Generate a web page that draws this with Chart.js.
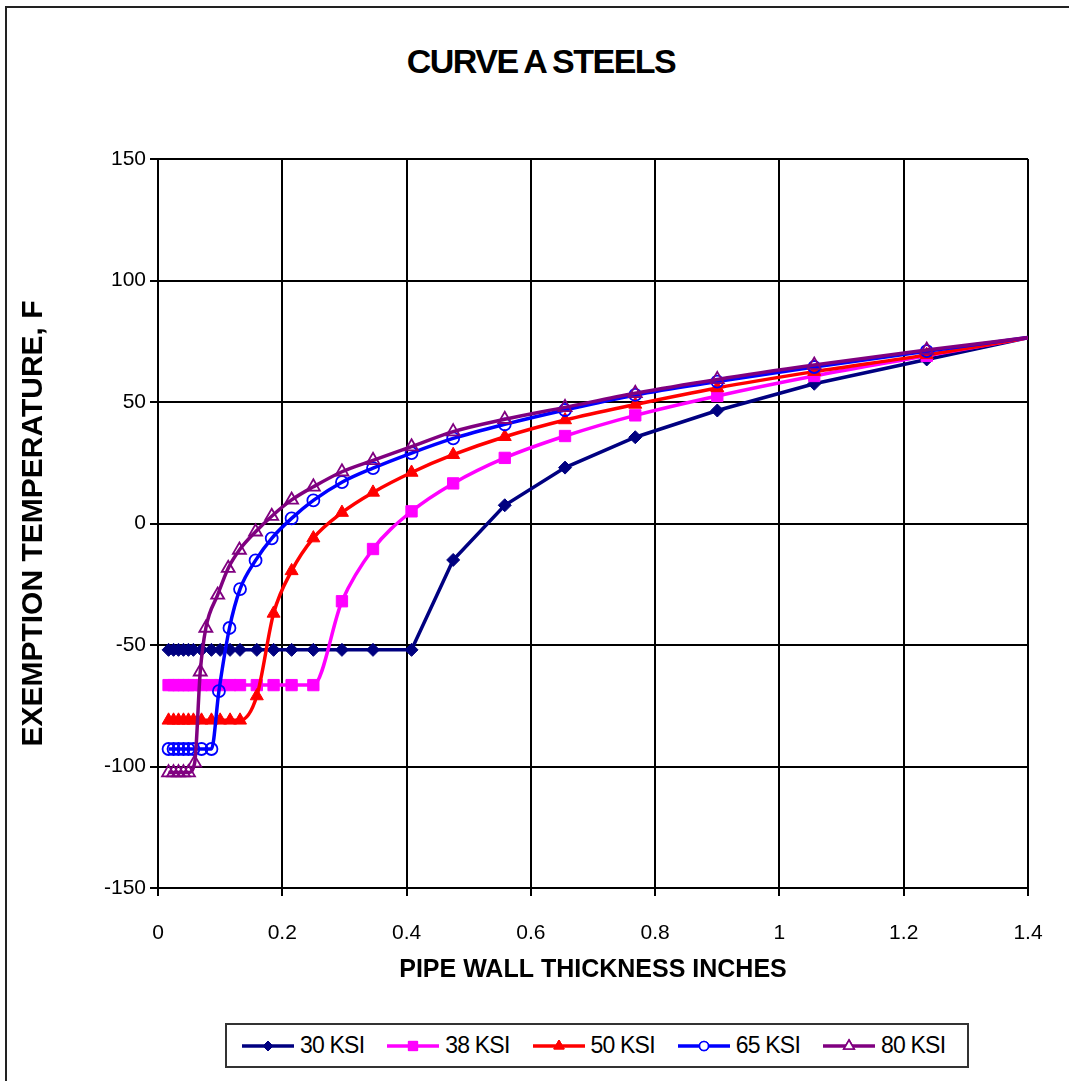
<!DOCTYPE html>
<html>
<head>
<meta charset="utf-8">
<script src="https://cdn.jsdelivr.net/npm/chart.js@4.4.0/dist/chart.umd.min.js"></script>
<style>
  html, body { margin: 0; padding: 0; background: #fff; overflow: hidden; }
  body { width: 1069px; height: 1081px; position: relative; font-family: "Liberation Sans", Arial, sans-serif; }
  #frame { position: absolute; left: 5px; top: 6px; width: 1100px; height: 1100px; border: 2px solid #222; box-sizing: border-box; }
  #title { position: absolute; left: 0; width: 1082px; top: 42px; text-align: center; font-weight: bold; font-size: 34px; letter-spacing: -1.5px; word-spacing: -1px; color: #000; }
  #wrap { position: absolute; left: 0; top: 0; width: 1069px; height: 1000px; }
  #legend { position: absolute; left: 225px; top: 1023px; width: 744px; height: 45px; border: 2px solid #333; box-sizing: border-box; display: flex; align-items: center; padding-left: 15px; white-space: nowrap; }
  .item { display: flex; align-items: center; margin-right: 23px; flex-shrink: 0; }
  .item:last-child { margin-right: 0; }
  .item canvas { width: 52px; height: 20px; }
  .item span { font-size: 23px; margin-left: 6px; letter-spacing: -0.8px; color: #000; white-space: nowrap; }
</style>
</head>
<body>
<div id="frame"></div>
<div id="title">CURVE A STEELS</div>
<div id="wrap"><canvas id="chart"></canvas></div>
<div id="legend"></div>
<script>
// pipe wall thickness (in) and exemption temperature (F) per curve
var seriesNames = ["30 KSI", "38 KSI", "50 KSI", "65 KSI", "80 KSI"];

var xs30 = [0.017,0.025,0.033,0.041,0.049,0.057,0.070,0.086,0.100,0.116,0.132,0.159,0.186,0.215,0.250,0.296,0.346,0.408,0.475,0.558,0.655,0.768,0.900,1.056,1.237,1.4];
var t30  = [-52,-52,-52,-52,-52,-52,-52,-52,-52,-52,-52,-52,-52,-52,-52,-52,-52,-52,-15,7.5,23,35.5,46.5,57.5,67.5,76.5];

var xs38 = [0.017,0.025,0.033,0.041,0.049,0.057,0.070,0.086,0.100,0.116,0.132,0.159,0.186,0.215,0.250,0.296,0.346,0.408,0.475,0.558,0.655,0.768,0.900,1.056,1.237,1.4];
var t38  = [-66.5,-66.5,-66.5,-66.5,-66.5,-66.5,-66.5,-66.5,-66.5,-66.5,-66.5,-66.5,-66.5,-66.5,-66.5,-32,-10.5,5,16.5,27,36,44.5,52.5,60.7,69,76.5];

var xs50 = [0.017,0.025,0.033,0.041,0.049,0.057,0.070,0.086,0.100,0.116,0.132,0.159,0.186,0.215,0.250,0.296,0.346,0.408,0.475,0.558,0.655,0.768,0.900,1.056,1.237,1.4];
var t50  = [-81,-81,-81,-81,-81,-81,-81,-81,-81,-81,-81,-71,-37,-19.5,-6,4.5,12.8,21,28.3,35.7,42.6,49,55.8,62.5,69.4,76.5];

var xs65 = [0.017,0.025,0.033,0.041,0.049,0.057,0.070,0.086,0.098,0.115,0.132,0.157,0.183,0.215,0.250,0.296,0.346,0.408,0.475,0.558,0.655,0.768,0.900,1.056,1.237,1.4];
var t65  = [-92.8,-92.8,-92.8,-92.8,-92.8,-92.8,-92.8,-92.8,-69,-43,-27,-15.2,-6.1,2.1,9.5,17,22.8,29,35,40.8,46.7,52.9,58.4,64.4,70.9,76.5];

var xs80 = [0.017,0.025,0.033,0.041,0.049,0.059,0.068,0.077,0.096,0.113,0.131,0.157,0.183,0.215,0.250,0.296,0.346,0.408,0.475,0.558,0.655,0.768,0.900,1.056,1.237,1.4];
var t80  = [-102.5,-102.5,-102.5,-102.5,-102.5,-98.5,-61,-43,-29.4,-18.4,-10.9,-3.4,3,9.7,15.1,21.3,26,31.6,37.8,42.9,47.8,53.6,59.3,65.2,71.4,76.5];

var xTicks = [0, 0.2, 0.4, 0.6, 0.8, 1, 1.2, 1.4];
var yTicks = [-150, -100, -50, 0, 50, 100, 150];

var colors  = ["#000080", "#ff00ff", "#ff0000", "#0000ff", "#800080"];
var styles  = ["rectRot", "rect", "triangle", "circle", "triangle"];
var radii   = [6.5, 8, 7.5, 6, 7.5];
var hollow  = [false, false, false, true, true];

function pts(xs, ys) {
  return xs.map(function(x, i) { return { x: x, y: ys[i] }; });
}
var allData = [pts(xs30, t30), pts(xs38, t38), pts(xs50, t50), pts(xs65, t65), pts(xs80, t80)];

var datasets = allData.map(function(d, i) {
  return {
    label: seriesNames[i],
    data: d,
    borderColor: colors[i],
    backgroundColor: hollow[i] ? "rgba(255,255,255,0)" : colors[i],
    borderWidth: 3.5,
    pointStyle: styles[i],
    pointRadius: function(ctx) { return ctx.dataIndex === d.length - 1 ? 0 : radii[i]; },
    pointBorderWidth: hollow[i] ? 1.8 : 1,
    pointBorderColor: colors[i],
    pointBackgroundColor: hollow[i] ? "rgba(255,255,255,0)" : colors[i],
    cubicInterpolationMode: i === 0 ? "default" : "monotone",
    tension: i === 0 ? 0 : 0.4,
    order: 4 - i
  };
});

var labelFont = { family: "'Liberation Sans', Arial, sans-serif", size: 21 };
var xTitleFont = { family: "'Liberation Sans', Arial, sans-serif", size: 25, weight: "bold" };
var yTitleFont = { family: "'Liberation Sans', Arial, sans-serif", size: 30, weight: "bold" };

new Chart(document.getElementById("chart"), {
  type: "line",
  data: { datasets: datasets },
  options: {
    responsive: true,
    maintainAspectRatio: false,
    animation: false,
    layout: { padding: { left: 16, right: 41, top: 159, bottom: 12 } },
    plugins: { legend: { display: false }, tooltip: { enabled: false } },
    scales: {
      x: {
        type: "linear", min: 0, max: 1.4,
        afterBuildTicks: function(s) { s.ticks = xTicks.map(function(v) { return { value: v }; }); },
        afterFit: function(s) { s.height = 100; },
        grid: { color: "#000", lineWidth: 2, tickLength: 8, tickColor: "#000" },
        border: { color: "#000", width: 2 },
        ticks: { color: "#000", font: labelFont, padding: 25, maxRotation: 0,
          callback: function(v) { return String(Math.round(v * 10) / 10); } },
        title: { display: true, text: "PIPE WALL THICKNESS INCHES", color: "#000", font: xTitleFont, padding: { top: 0, bottom: 3 } }
      },
      y: {
        type: "linear", min: -150, max: 150,
        afterBuildTicks: function(s) { s.ticks = yTicks.map(function(v) { return { value: v }; }); },
        afterFit: function(s) { s.width = 142; },
        grid: { color: "#000", lineWidth: 2, tickLength: 8, tickColor: "#000" },
        border: { color: "#000", width: 2 },
        ticks: { color: "#000", font: labelFont, padding: 4 },
        title: { display: true, text: "EXEMPTION TEMPERATURE, F", color: "#000", font: yTitleFont, padding: { top: 0, bottom: 0 } }
      }
    }
  }
});

// legend: line sample with marker, then the name
var legend = document.getElementById("legend");
seriesNames.forEach(function(name, i) {
  var item = document.createElement("div");
  item.className = "item";
  var c = document.createElement("canvas");
  c.width = 52; c.height = 20;
  var g = c.getContext("2d");
  g.strokeStyle = colors[i]; g.lineWidth = 3.5;
  g.beginPath(); g.moveTo(0, 10); g.lineTo(52, 10); g.stroke();
  g.lineWidth = hollow[i] ? 1.6 : 1;
  Chart.helpers.drawPoint(g, {
    pointStyle: styles[i], radius: radii[i] - 1.5, borderWidth: hollow[i] ? 1.6 : 1, rotation: 0
  }, 26, 10);
  g.fillStyle = hollow[i] ? "#fff" : colors[i];
  g.fill();
  g.stroke();
  var s = document.createElement("span");
  s.textContent = name;
  item.appendChild(c); item.appendChild(s);
  legend.appendChild(item);
});
</script>
</body>
</html>
